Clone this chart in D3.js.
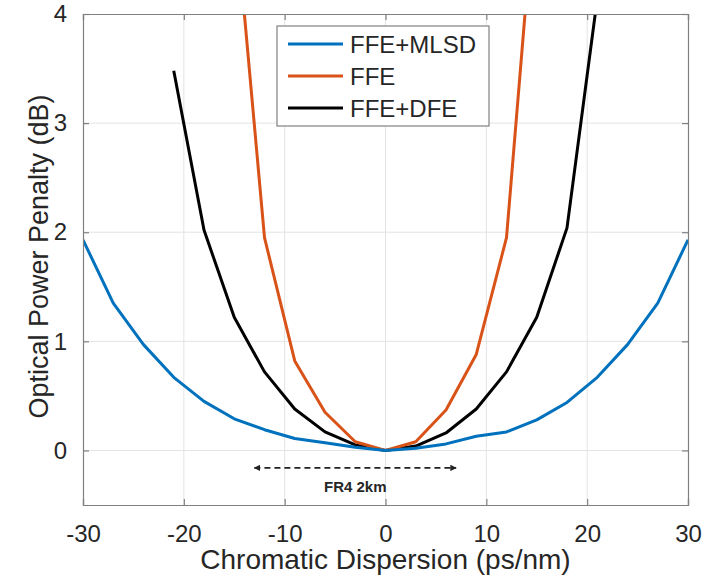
<!DOCTYPE html>
<html>
<head>
<meta charset="utf-8">
<script src="https://cdn.jsdelivr.net/npm/d3@7"></script>
<style>
  body { margin: 0; background: #fff; overflow: hidden; }
  svg { display: block; }
  text { font-family: "Liberation Sans", Arial, sans-serif; fill: #262626; }
</style>
</head>
<body>
<div id="chart"></div>
<script>
// Chromatic dispersion samples (ps/nm)
const cdMlsd = [-30, -27, -24, -21, -18, -15, -12, -9, -6, -3, 0, 3, 6, 9, 12, 15, 18, 21, 24, 27, 30];
const penaltyMlsd = [1.93, 1.35, 0.97, 0.67, 0.45, 0.29, 0.19, 0.11, 0.07, 0.03, 0, 0.02, 0.06, 0.13, 0.17, 0.28, 0.44, 0.67, 0.97, 1.35, 1.93];

const cdFfe = [-15, -12, -9, -6, -3, 0, 3, 6, 9, 12, 15];
const penaltyFfe = [5.03, 1.95, 0.82, 0.35, 0.08, 0, 0.08, 0.37, 0.88, 1.95, 5.3];

const cdDfe = [-21, -18, -15, -12, -9, -6, -3, 0, 3, 6, 9, 12, 15, 18, 21];
const penaltyDfe = [3.48, 2.02, 1.22, 0.72, 0.38, 0.17, 0.05, 0, 0.04, 0.16, 0.38, 0.72, 1.22, 2.04, 4.14];

const xTicks = [-30, -20, -10, 0, 10, 20, 30];
const yTicks = [0, 1, 2, 3, 4];
const fr4Range = [-13, 7];

const series = [
  { name: "FFE+MLSD", color: "#0072BD", x: cdMlsd, y: penaltyMlsd },
  { name: "FFE", color: "#D95319", x: cdFfe, y: penaltyFfe },
  { name: "FFE+DFE", color: "#000000", x: cdDfe, y: penaltyDfe }
];

const width = 705, height = 579;
const margin = { top: 14, right: 17, bottom: 74, left: 83 };
const innerWidth = width - margin.left - margin.right;
const innerHeight = height - margin.top - margin.bottom;

const svg = d3.select("#chart").append("svg")
  .attr("width", width)
  .attr("height", height);

const xScale = d3.scaleLinear().domain([-30, 30]).range([0, innerWidth]);
const yScale = d3.scaleLinear().domain([-0.5, 4]).range([innerHeight, 0]);

const g = svg.append("g").attr("transform", `translate(${margin.left},${margin.top})`);

// Grid
g.append("g")
  .selectAll("line")
  .data(xTicks.slice(1, -1))
  .join("line")
  .attr("x1", d => xScale(d)).attr("x2", d => xScale(d))
  .attr("y1", 0).attr("y2", innerHeight)
  .attr("stroke", "#e3e3e3").attr("stroke-width", 1);

g.append("g")
  .selectAll("line")
  .data(yTicks.slice(0, -1))
  .join("line")
  .attr("x1", 0).attr("x2", innerWidth)
  .attr("y1", d => yScale(d)).attr("y2", d => yScale(d))
  .attr("stroke", "#e3e3e3").attr("stroke-width", 1);

// Curves
g.append("clipPath").attr("id", "clip")
  .append("rect").attr("width", innerWidth).attr("height", innerHeight);

const line = d3.line()
  .x(d => xScale(d[0]))
  .y(d => yScale(d[1]));

g.append("g").attr("clip-path", "url(#clip)")
  .selectAll("path")
  .data(series.slice().reverse())
  .join("path")
  .attr("fill", "none")
  .attr("stroke", d => d.color)
  .attr("stroke-width", 3)
  .attr("stroke-linejoin", "round")
  .attr("d", d => line(d.x.map((v, i) => [v, d.y[i]])));

// Axes (box with inward ticks)
const tickLen = 6;
const fmt = d => String(d);
const xAxisBottom = d3.axisBottom(xScale).tickValues(xTicks).tickSize(-tickLen).tickPadding(20).tickFormat(fmt);
const yAxisLeft = d3.axisLeft(yScale).tickValues(yTicks).tickSize(-tickLen).tickPadding(16).tickFormat(fmt);

const gx = g.append("g").attr("transform", `translate(0,${innerHeight})`).call(xAxisBottom);
const gy = g.append("g").call(yAxisLeft);

const gt = g.append("g").call(d3.axisTop(xScale).tickValues(xTicks).tickSize(-tickLen).tickFormat(""));
const gr = g.append("g").attr("transform", `translate(${innerWidth},0)`)
  .call(d3.axisRight(yScale).tickValues(yTicks).tickSize(-tickLen).tickFormat(""));
gt.selectAll(".tick text").remove();
gr.selectAll(".tick text").remove();

svg.selectAll(".domain, .tick line").attr("stroke", "#808080").attr("stroke-width", 1.2);
gx.selectAll(".tick text").style("font-size", "24px").attr("fill", "#262626");
gy.selectAll(".tick text").style("font-size", "24px").attr("fill", "#262626");

// Axis labels
svg.append("text")
  .attr("x", margin.left + xScale(0))
  .attr("y", 569)
  .attr("text-anchor", "middle")
  .style("font-size", "28px")
  .text("Chromatic Dispersion (ps/nm)");

svg.append("text")
  .attr("transform", "rotate(-90)")
  .attr("x", -(margin.top + innerHeight / 2) + 3)
  .attr("y", 48)
  .attr("text-anchor", "middle")
  .style("font-size", "27px")
  .text("Optical Power Penalty (dB)");

// FR4 2km annotation
const arrowY = yScale(-0.16);
const defs = svg.append("defs");
defs.append("marker").attr("id", "arrowhead")
  .attr("viewBox", "0 0 10 10").attr("refX", 9).attr("refY", 5)
  .attr("markerWidth", 4).attr("markerHeight", 4).attr("orient", "auto-start-reverse")
  .append("path").attr("d", "M0,0 L10,5 L0,10 z").attr("fill", "#222");

g.append("line")
  .attr("x1", xScale(fr4Range[0])).attr("x2", xScale(fr4Range[1]))
  .attr("y1", arrowY).attr("y2", arrowY)
  .attr("stroke", "#222").attr("stroke-width", 1.6)
  .attr("stroke-dasharray", "6,4")
  .attr("marker-start", "url(#arrowhead)")
  .attr("marker-end", "url(#arrowhead)");

g.append("text")
  .attr("x", xScale((fr4Range[0] + fr4Range[1]) / 2))
  .attr("y", yScale(-0.38))
  .attr("text-anchor", "middle")
  .style("font-size", "15px")
  .style("font-weight", "bold")
  .attr("fill", "#333")
  .text("FR4 2km");

// Legend
const legend = svg.append("g").attr("transform", "translate(277,26)");
legend.append("rect")
  .attr("width", 212).attr("height", 100)
  .attr("fill", "#fff").attr("stroke", "#808080").attr("stroke-width", 1.2);

const rows = legend.selectAll("g.row").data(series).join("g")
  .attr("transform", (d, i) => `translate(0,${18 + i * 32})`);
rows.append("line")
  .attr("x1", 11).attr("x2", 66)
  .attr("stroke", d => d.color).attr("stroke-width", 3);
rows.append("text")
  .attr("x", 73).attr("dy", "0.36em")
  .style("font-size", "24px")
  .text(d => d.name);
</script>
</body>
</html>
